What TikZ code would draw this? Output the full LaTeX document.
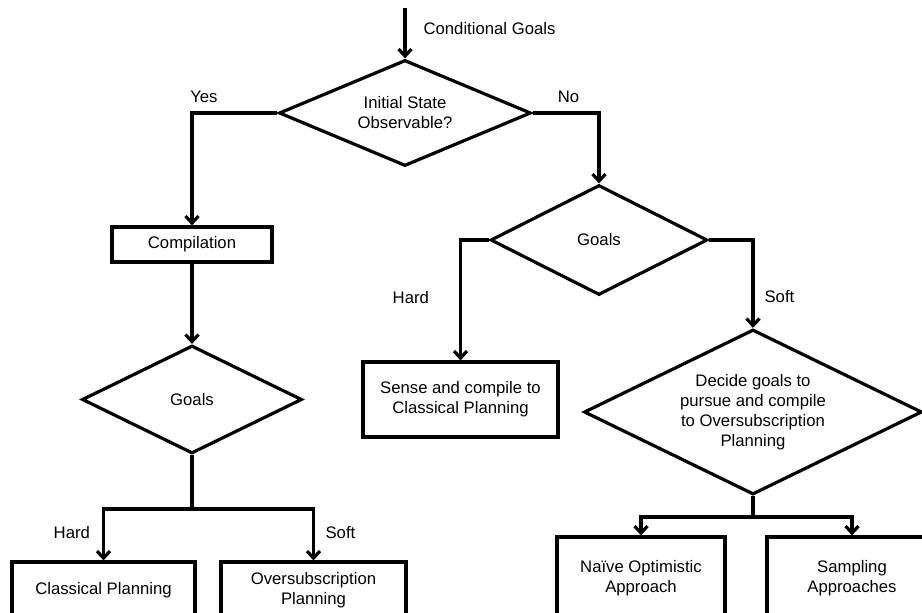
\documentclass[tikz,border=0pt]{standalone}
\usepackage{fontspec}
\setmainfont{Liberation Sans}
\usepackage{tikz}
\usetikzlibrary{
        shapes.geometric,
        positioning,
        arrows.meta
    }
\newcommand{\flowfont}{\fontsize{16.7}{20}\selectfont}

\begin{document}
\begin{tikzpicture}
[x=1pt, y=-1pt,
baseshape/.style={draw=black, line width=3.2pt, font=\flowfont, align=center, inner sep=3pt},
decision/.style={baseshape, diamond, aspect=2},
process/.style={baseshape, rectangle},
lbl/.style={font=\flowfont, inner sep=3pt},
link/.style={line width=3.2pt},
arrow/.style={link, -{Straight Barb[length=7pt,width=13pt]}},
node distance=155pt,]
    \clip (0,0) rectangle (922,613);
    \coordinate (top) at (405,8);
    \node (init) [decision, minimum width=252pt, minimum height=106pt] at (405,113) {Initial State\\Observable?};
    \node (comp) [process, minimum width=160pt, minimum height=35pt] at (192,244.5) {Compilation};
    \node (goalsL) [decision, below of=comp, minimum width=220pt, minimum height=108pt] {Goals};
    \node (classic) [process, minimum width=183pt, minimum height=56pt] at (103.5,590) {Classical Planning};
    \node (oversub) [process, right of=classic, node distance=210pt, minimum width=185pt, minimum height=56pt] {Oversubscription\\Planning};
    \node (goalsR) [decision, minimum width=217pt, minimum height=110pt] at (599,240) {Goals};
    \node (sense) [process, minimum width=195pt, minimum height=75pt] at (460.5,399.5) {Sense and compile to\\Classical Planning};
    \node (decide) [decision, inner sep=1pt, minimum width=338pt, minimum height=165pt] at (753,412) {Decide goals to\\pursue and compile\\to Oversubscription\\Planning};
    \node (naive) [process, minimum width=168pt, minimum height=82pt] at (641,578) {Naïve Optimistic\\Approach};
    \node (sampling) [process, right of=naive, node distance=211pt, minimum width=170pt, minimum height=82pt] {Sampling\\Approaches};
    \coordinate (forkL) at (192,509);
    \coordinate (forkR) at (753,517);
    \draw[arrow] (top) -- node[lbl, pos=0.4, right=14pt]{Conditional Goals} (init);
    \draw[arrow] (init.west) -| node[lbl, pos=0.43, above=6pt]{Yes} (comp.north);
    \draw[arrow] (init.east) -| node[lbl, pos=0.27, above=6pt]{No} (goalsR.north);
    \draw[arrow] (comp) -- (goalsL);
    \draw[link] (goalsL.south) -- (forkL);
    \draw[arrow] (forkL) -| node[lbl, pos=0.73, left=9pt]{Hard} (classic.north);
    \draw[arrow] (forkL) -| node[lbl, pos=0.73, right=7.5pt]{Soft} (oversub.north);
    \draw[arrow] (goalsR.west) -| node[lbl, pos=0.74, left=27pt]{Hard} (sense.north);
    \draw[arrow] (goalsR.east) -| node[lbl, pos=0.82, right=7pt]{Soft} (decide.north);
    \draw[link] (decide.south) -- (forkR);
    \draw[arrow] (forkR) -| (naive.north);
    \draw[arrow] (forkR) -| (sampling.north);
\end{tikzpicture}
\end{document}
